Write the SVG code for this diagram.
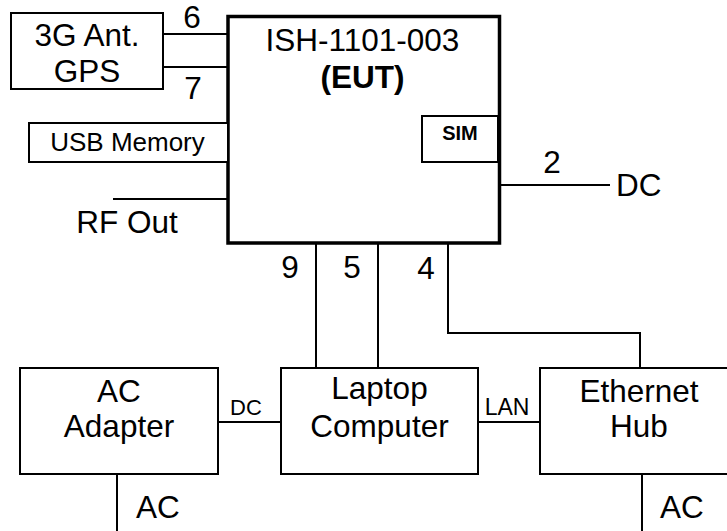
<svg xmlns="http://www.w3.org/2000/svg" width="727" height="531" viewBox="0 0 727 531">
<style>
text{font-family:"Liberation Sans",Arial,sans-serif;fill:#000}
.b{fill:#fff;stroke:#000;stroke-width:2}
.l{fill:none;stroke:#000;stroke-width:2}
.t{font-size:31.5px;text-anchor:middle}
.s{font-size:31.5px}
</style>
<rect width="727" height="531" fill="#fff"/>
<g id="connectors">
<path class="l" d="M163 34H228M163 67H228M113 199H228M500 185H610M316 243V368M378 243V368M448 243V333H640V368M218 422H281M478 422H540M117 474V531M642 474V531"/>
</g>
<g id="eut">
<rect x="228" y="16.5" width="271.5" height="226.5" fill="#fff" stroke="#000" stroke-width="3.5"/>
<text class="t" x="362.5" y="51">ISH-1101-003</text>
<text class="t" x="362.5" y="88" font-weight="bold">(EUT)</text>
</g>
<g id="sim">
<rect class="b" x="422" y="116" width="76" height="46"/>
<text x="460" y="140" font-size="20" font-weight="bold" text-anchor="middle">SIM</text>
</g>
<g id="antenna">
<rect class="b" x="11" y="13" width="152" height="76"/>
<text class="t" x="87" y="46">3G Ant.</text>
<text class="t" x="87" y="82">GPS</text>
</g>
<g id="usb">
<rect class="b" x="29" y="123" width="199" height="39" stroke="#333"/>
<text x="127.5" y="151" font-size="26" text-anchor="middle">USB Memory</text>
</g>
<g id="rfout"><text class="t" x="127" y="233">RF Out</text></g>
<g id="dc"><text class="s" x="616" y="196">DC</text></g>
<g id="labels">
<text class="t" x="192" y="28">6</text>
<text class="t" x="193" y="99">7</text>
<text class="t" x="552" y="173">2</text>
<text class="t" x="290" y="278">9</text>
<text class="t" x="352" y="278">5</text>
<text class="t" x="426" y="279">4</text>
<text x="246" y="415" font-size="22" text-anchor="middle">DC</text>
<text x="507" y="415" font-size="23" text-anchor="middle">LAN</text>
<text class="s" x="136" y="518">AC</text>
<text class="s" x="660" y="518">AC</text>
</g>
<g id="adapter">
<rect class="b" x="20" y="368" width="198" height="106"/>
<text class="t" x="119" y="402">AC</text>
<text class="t" x="119" y="437">Adapter</text>
</g>
<g id="laptop">
<rect class="b" x="281" y="368" width="197" height="106"/>
<text class="t" x="379.5" y="399">Laptop</text>
<text class="t" x="379.5" y="437">Computer</text>
</g>
<g id="hub">
<rect class="b" x="540" y="368" width="200" height="106"/>
<text class="t" x="639" y="402">Ethernet</text>
<text class="t" x="639" y="437">Hub</text>
</g>
</svg>
